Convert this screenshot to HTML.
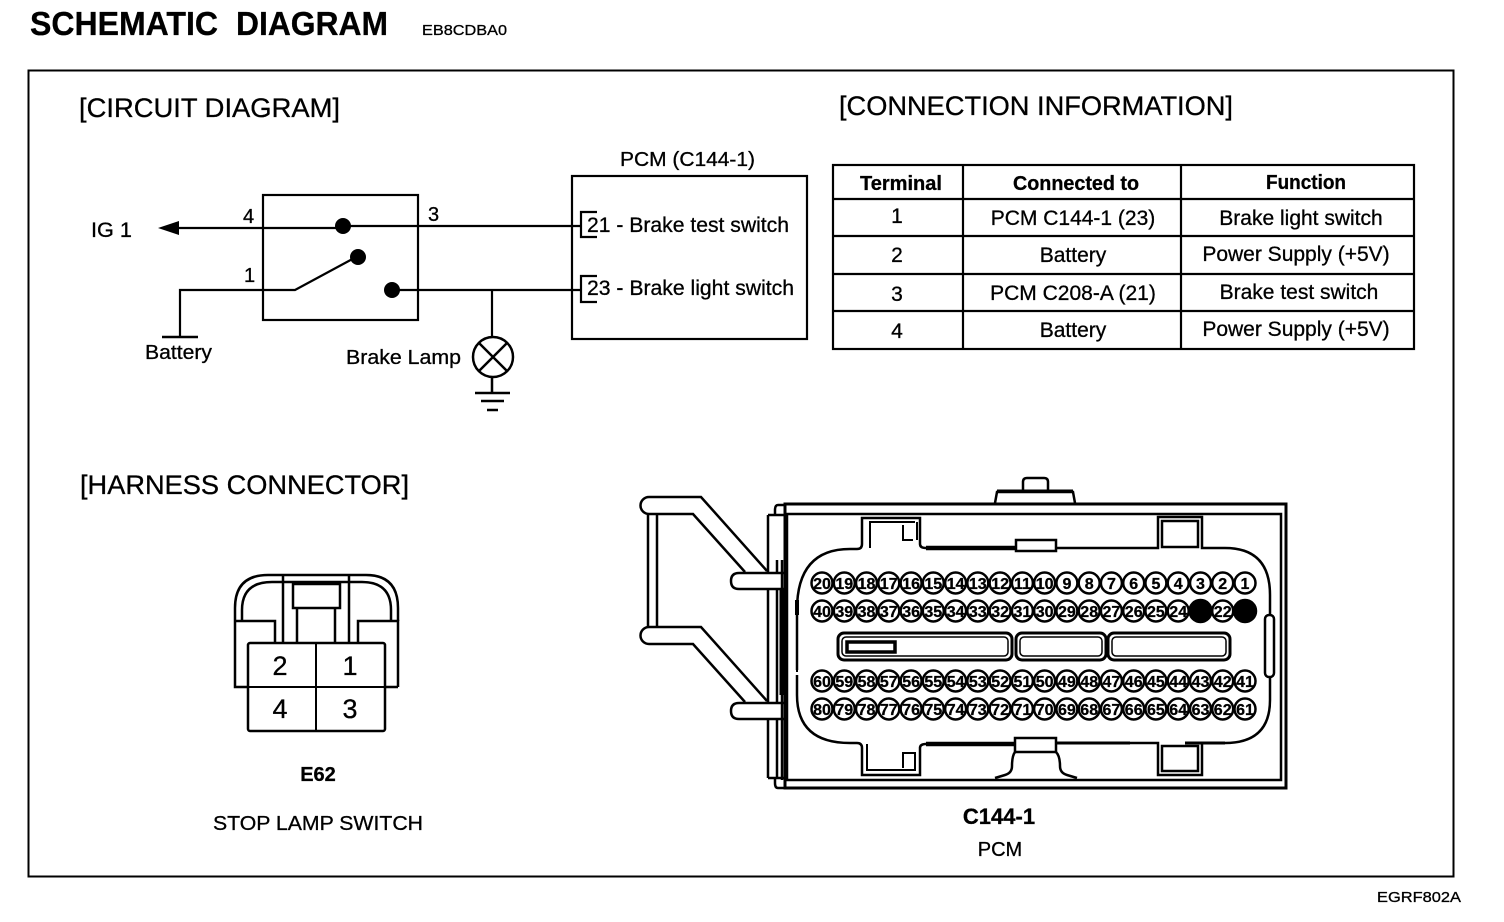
<!DOCTYPE html>
<html><head><meta charset="utf-8"><style>
html,body{margin:0;padding:0;background:#fff}
svg{display:block}
text{font-family:"Liberation Sans",sans-serif;fill:#000;stroke:#000;stroke-width:.3}
</style></head><body>
<svg width="1504" height="922" viewBox="0 0 1504 922" xmlns="http://www.w3.org/2000/svg">
<text x="30" y="35" font-size="33" font-weight="bold" textLength="188" lengthAdjust="spacingAndGlyphs">SCHEMATIC</text>
<text x="236" y="35" font-size="33" font-weight="bold" textLength="152" lengthAdjust="spacingAndGlyphs">DIAGRAM</text>
<text x="422" y="35" font-size="15" textLength="85" lengthAdjust="spacingAndGlyphs">EB8CDBA0</text>
<rect x="28.5" y="70.5" width="1425" height="806" fill="none" stroke="#000" stroke-width="2"/>
<text x="79" y="117" font-size="27" textLength="261" lengthAdjust="spacingAndGlyphs">[CIRCUIT DIAGRAM]</text>
<text x="839" y="115" font-size="27" textLength="394" lengthAdjust="spacingAndGlyphs">[CONNECTION INFORMATION]</text>
<text x="80" y="494" font-size="27" textLength="329" lengthAdjust="spacingAndGlyphs">[HARNESS CONNECTOR]</text>

<!-- circuit -->
<g fill="none" stroke="#000" stroke-width="2.2">
<rect x="263" y="195" width="155" height="125"/>
<path d="M175 228H343M343 226H580M180 337V290H295L358 256M392 290H580M492 290V338"/>
<rect x="572" y="176" width="235" height="163"/>
<path d="M597 212H581V237H597M597 276H581V302H597"/>
<circle cx="493" cy="357" r="20" stroke-width="2.5"/>
<path d="M479 343L507 371M507 343L479 371M492 377V393M475 393H510M481 401H504M487 410H498M162 337H198" stroke-width="2.5"/>
</g>
<path d="M158 228L179 221V235Z"/>
<circle cx="343" cy="226" r="8"/><circle cx="358" cy="257" r="8"/><circle cx="392" cy="290" r="8"/>
<text x="91" y="237" font-size="21" textLength="41" lengthAdjust="spacingAndGlyphs">IG 1</text>
<text x="243" y="223" font-size="20">4</text><text x="428" y="221" font-size="20">3</text><text x="244" y="282" font-size="20">1</text>
<text x="145" y="359" font-size="20" textLength="67" lengthAdjust="spacingAndGlyphs">Battery</text>
<text x="346" y="364" font-size="20" textLength="115" lengthAdjust="spacingAndGlyphs">Brake Lamp</text>
<text x="620" y="166" font-size="20" textLength="135" lengthAdjust="spacingAndGlyphs">PCM (C144-1)</text>
<text x="587" y="232" font-size="21" textLength="202" lengthAdjust="spacingAndGlyphs">21 - Brake test switch</text>
<text x="587" y="295" font-size="21" textLength="207" lengthAdjust="spacingAndGlyphs">23 - Brake light switch</text>

<!-- table -->
<g fill="none" stroke="#000" stroke-width="2.2">
<rect x="833" y="165" width="581" height="184"/>
<path d="M833 199H1414M833 236H1414M833 274H1414M833 311H1414M963 165V349M1181 165V349"/>
</g>
<g font-size="21" text-anchor="middle">
<text x="901" y="190" font-size="20" font-weight="bold" textLength="82" lengthAdjust="spacingAndGlyphs">Terminal</text>
<text x="1076" y="190" font-size="20" font-weight="bold" textLength="126" lengthAdjust="spacingAndGlyphs">Connected to</text>
<text x="1306" y="189" font-size="20" font-weight="bold" textLength="80" lengthAdjust="spacingAndGlyphs">Function</text>
<text x="897" y="223">1</text><text x="1073" y="225">PCM C144-1 (23)</text><text x="1301" y="225">Brake light switch</text>
<text x="897" y="262">2</text><text x="1073" y="262">Battery</text><text x="1296" y="261">Power Supply (+5V)</text>
<text x="897" y="301">3</text><text x="1073" y="300">PCM C208-A (21)</text><text x="1299" y="299">Brake test switch</text>
<text x="897" y="338">4</text><text x="1073" y="337">Battery</text><text x="1296" y="336">Power Supply (+5V)</text>
</g>

<!-- E62 -->
<g fill="none" stroke="#000" stroke-width="2.5">
<path d="M235 621V608Q235 575 268 575H366Q398 575 398 608V621"/>
<path d="M242 621V610Q242 582 272 582H362Q391 582 391 610V621"/>
<path d="M235 621H275V643M358 643V621H398V687M235 621V687H398"/>
<path d="M283 643V575M349 643V575M297 643V608M335 643V608"/>
<rect x="293" y="584" width="47" height="24"/>
<rect x="248" y="643" width="137" height="88" fill="#fff" rx="2"/>
<path d="M316 643V731M235 687H398" stroke-width="2"/>
</g>
<g font-size="27" text-anchor="middle">
<text x="280" y="675">2</text><text x="350" y="675">1</text><text x="280" y="718">4</text><text x="350" y="718">3</text>
</g>
<text x="318" y="781" font-size="20" font-weight="bold" text-anchor="middle">E62</text>
<text x="318" y="830" font-size="20" text-anchor="middle" textLength="210" lengthAdjust="spacingAndGlyphs">STOP LAMP SWITCH</text>

<!-- PCM connector -->
<g fill="none" stroke="#000" stroke-width="2.5">
<path d="M648 514V627M657 514V627"/>
<path d="M745 572L693 514H649A8.5 8.5 0 0 1 649 497H701L767 571"/>
<path d="M745 702L693 644H649A8.5 8.5 0 0 1 649 627H701L767 701"/>
<path d="M768 515H785M768 778H785M768 515V778M777 560V778"/>
<path d="M785 505H778Q775 505 775 510V515M785 788H778Q775 788 775 783V778"/>
<path d="M785 573H739Q731 573 731 581Q731 589 739 589H785" fill="#fff"/>
<path d="M785 703H739Q731 703 731 711Q731 719 739 719H785" fill="#fff"/>
<rect x="785" y="504" width="501" height="284" stroke-width="3" fill="#fff"/>
<path d="M787 514H1281V780H787Z"/>
<path d="M782 590V695" stroke-width="5"/>
<path d="M782 560V780" stroke-width="2.5"/>
<!-- top tab -->
<path d="M995 503L997 492H1073L1075 503M1023 491V482Q1023 478 1027 478H1044Q1048 478 1048 482V491"/>
<path d="M997 491H1073" stroke-width="3"/>
<!-- interface outline -->
<path d="M797 670V610Q797 549 850 549H857Q862 549 862 544V518H920V544Q920 548 926 548"/>
<path d="M797 615V600" stroke-width="4"/>
<path d="M797 675V695Q797 743 850 743H857Q862 743 862 748V775H920V748Q920 744 926 744"/>
<path d="M797 622V672" stroke-width="2"/>
<path d="M926 548H1015" stroke-width="4.5"/>
<path d="M926 744H1015" stroke-width="4.5"/>
<path d="M1056 548H1158V517H1202V548H1225Q1270 548 1270 595V700Q1270 743 1225 743H1202V775H1158V743H1055" stroke-width="2.5"/>
<path d="M1056 743H1130M1185 743H1225" stroke-width="3"/>
<!-- left notches detail -->
<path d="M870 548V522H915M903 525V540H913M917 522V540" stroke-width="2"/>
<path d="M867 744V770H915V753H903V768" stroke-width="2"/>
<!-- mini tabs -->
<path d="M1016 540H1056V551H1016Z" fill="#fff"/>
<path d="M1015 738H1056V752H1015Z" fill="#fff"/>
<path d="M1015 752Q1012 756 1012 766Q1012 773 1005 775L995 778M1056 752Q1060 756 1060 766Q1060 773 1067 775L1077 778"/>
<rect x="1162" y="521" width="36" height="26"/>
<rect x="1162" y="746" width="36" height="25"/>
<rect x="1265" y="615" width="9" height="62" rx="4" fill="#fff"/>
<rect x="838" y="633" width="174" height="27" rx="6" stroke-width="3"/>
<rect x="842" y="637" width="166" height="19" rx="4" stroke-width="1.5"/>
<rect x="847" y="642" width="48" height="10" stroke-width="3.5"/>
<rect x="1016" y="633" width="90" height="27" rx="6" stroke-width="3"/>
<rect x="1020" y="637" width="82" height="19" rx="4" stroke-width="1.5"/>
<rect x="1108" y="633" width="122" height="27" rx="6" stroke-width="3"/>
<rect x="1112" y="637" width="114" height="19" rx="4" stroke-width="1.5"/>
</g>
<g fill="none" stroke="#000" stroke-width="2.5">
<circle cx="822.0" cy="583" r="10.5"/><circle cx="844.3" cy="583" r="10.5"/><circle cx="866.5" cy="583" r="10.5"/><circle cx="888.8" cy="583" r="10.5"/><circle cx="911.1" cy="583" r="10.5"/><circle cx="933.3" cy="583" r="10.5"/><circle cx="955.6" cy="583" r="10.5"/><circle cx="977.8" cy="583" r="10.5"/><circle cx="1000.1" cy="583" r="10.5"/><circle cx="1022.4" cy="583" r="10.5"/><circle cx="1044.6" cy="583" r="10.5"/><circle cx="1066.9" cy="583" r="10.5"/><circle cx="1089.2" cy="583" r="10.5"/><circle cx="1111.4" cy="583" r="10.5"/><circle cx="1133.7" cy="583" r="10.5"/><circle cx="1155.9" cy="583" r="10.5"/><circle cx="1178.2" cy="583" r="10.5"/><circle cx="1200.5" cy="583" r="10.5"/><circle cx="1222.7" cy="583" r="10.5"/><circle cx="1245.0" cy="583" r="10.5"/>
<circle cx="822.0" cy="611" r="10.5"/><circle cx="844.3" cy="611" r="10.5"/><circle cx="866.5" cy="611" r="10.5"/><circle cx="888.8" cy="611" r="10.5"/><circle cx="911.1" cy="611" r="10.5"/><circle cx="933.3" cy="611" r="10.5"/><circle cx="955.6" cy="611" r="10.5"/><circle cx="977.8" cy="611" r="10.5"/><circle cx="1000.1" cy="611" r="10.5"/><circle cx="1022.4" cy="611" r="10.5"/><circle cx="1044.6" cy="611" r="10.5"/><circle cx="1066.9" cy="611" r="10.5"/><circle cx="1089.2" cy="611" r="10.5"/><circle cx="1111.4" cy="611" r="10.5"/><circle cx="1133.7" cy="611" r="10.5"/><circle cx="1155.9" cy="611" r="10.5"/><circle cx="1178.2" cy="611" r="10.5"/><circle cx="1200.5" cy="611" r="11" fill="#000"/><circle cx="1222.7" cy="611" r="10.5"/><circle cx="1245.0" cy="611" r="11" fill="#000"/>
<circle cx="822.0" cy="681" r="10.5"/><circle cx="844.3" cy="681" r="10.5"/><circle cx="866.5" cy="681" r="10.5"/><circle cx="888.8" cy="681" r="10.5"/><circle cx="911.1" cy="681" r="10.5"/><circle cx="933.3" cy="681" r="10.5"/><circle cx="955.6" cy="681" r="10.5"/><circle cx="977.8" cy="681" r="10.5"/><circle cx="1000.1" cy="681" r="10.5"/><circle cx="1022.4" cy="681" r="10.5"/><circle cx="1044.6" cy="681" r="10.5"/><circle cx="1066.9" cy="681" r="10.5"/><circle cx="1089.2" cy="681" r="10.5"/><circle cx="1111.4" cy="681" r="10.5"/><circle cx="1133.7" cy="681" r="10.5"/><circle cx="1155.9" cy="681" r="10.5"/><circle cx="1178.2" cy="681" r="10.5"/><circle cx="1200.5" cy="681" r="10.5"/><circle cx="1222.7" cy="681" r="10.5"/><circle cx="1245.0" cy="681" r="10.5"/>
<circle cx="822.0" cy="709" r="10.5"/><circle cx="844.3" cy="709" r="10.5"/><circle cx="866.5" cy="709" r="10.5"/><circle cx="888.8" cy="709" r="10.5"/><circle cx="911.1" cy="709" r="10.5"/><circle cx="933.3" cy="709" r="10.5"/><circle cx="955.6" cy="709" r="10.5"/><circle cx="977.8" cy="709" r="10.5"/><circle cx="1000.1" cy="709" r="10.5"/><circle cx="1022.4" cy="709" r="10.5"/><circle cx="1044.6" cy="709" r="10.5"/><circle cx="1066.9" cy="709" r="10.5"/><circle cx="1089.2" cy="709" r="10.5"/><circle cx="1111.4" cy="709" r="10.5"/><circle cx="1133.7" cy="709" r="10.5"/><circle cx="1155.9" cy="709" r="10.5"/><circle cx="1178.2" cy="709" r="10.5"/><circle cx="1200.5" cy="709" r="10.5"/><circle cx="1222.7" cy="709" r="10.5"/><circle cx="1245.0" cy="709" r="10.5"/>
</g>
<g font-size="16" text-anchor="middle" font-weight="bold">
<text x="822.0" y="589">20</text><text x="844.3" y="589">19</text><text x="866.5" y="589">18</text><text x="888.8" y="589">17</text><text x="911.1" y="589">16</text><text x="933.3" y="589">15</text><text x="955.6" y="589">14</text><text x="977.8" y="589">13</text><text x="1000.1" y="589">12</text><text x="1022.4" y="589">11</text><text x="1044.6" y="589">10</text><text x="1066.9" y="589">9</text><text x="1089.2" y="589">8</text><text x="1111.4" y="589">7</text><text x="1133.7" y="589">6</text><text x="1155.9" y="589">5</text><text x="1178.2" y="589">4</text><text x="1200.5" y="589">3</text><text x="1222.7" y="589">2</text><text x="1245.0" y="589">1</text>
<text x="822.0" y="617">40</text><text x="844.3" y="617">39</text><text x="866.5" y="617">38</text><text x="888.8" y="617">37</text><text x="911.1" y="617">36</text><text x="933.3" y="617">35</text><text x="955.6" y="617">34</text><text x="977.8" y="617">33</text><text x="1000.1" y="617">32</text><text x="1022.4" y="617">31</text><text x="1044.6" y="617">30</text><text x="1066.9" y="617">29</text><text x="1089.2" y="617">28</text><text x="1111.4" y="617">27</text><text x="1133.7" y="617">26</text><text x="1155.9" y="617">25</text><text x="1178.2" y="617">24</text><text x="1222.7" y="617">22</text>
<text x="822.0" y="687">60</text><text x="844.3" y="687">59</text><text x="866.5" y="687">58</text><text x="888.8" y="687">57</text><text x="911.1" y="687">56</text><text x="933.3" y="687">55</text><text x="955.6" y="687">54</text><text x="977.8" y="687">53</text><text x="1000.1" y="687">52</text><text x="1022.4" y="687">51</text><text x="1044.6" y="687">50</text><text x="1066.9" y="687">49</text><text x="1089.2" y="687">48</text><text x="1111.4" y="687">47</text><text x="1133.7" y="687">46</text><text x="1155.9" y="687">45</text><text x="1178.2" y="687">44</text><text x="1200.5" y="687">43</text><text x="1222.7" y="687">42</text><text x="1245.0" y="687">41</text>
<text x="822.0" y="715">80</text><text x="844.3" y="715">79</text><text x="866.5" y="715">78</text><text x="888.8" y="715">77</text><text x="911.1" y="715">76</text><text x="933.3" y="715">75</text><text x="955.6" y="715">74</text><text x="977.8" y="715">73</text><text x="1000.1" y="715">72</text><text x="1022.4" y="715">71</text><text x="1044.6" y="715">70</text><text x="1066.9" y="715">69</text><text x="1089.2" y="715">68</text><text x="1111.4" y="715">67</text><text x="1133.7" y="715">66</text><text x="1155.9" y="715">65</text><text x="1178.2" y="715">64</text><text x="1200.5" y="715">63</text><text x="1222.7" y="715">62</text><text x="1245.0" y="715">61</text>
</g>
<text x="999" y="824" font-size="22" font-weight="bold" text-anchor="middle">C144-1</text>
<text x="1000" y="856" font-size="20" text-anchor="middle">PCM</text>
<text x="1377" y="902" font-size="15" textLength="84" lengthAdjust="spacingAndGlyphs">EGRF802A</text>
</svg>
</body></html>
